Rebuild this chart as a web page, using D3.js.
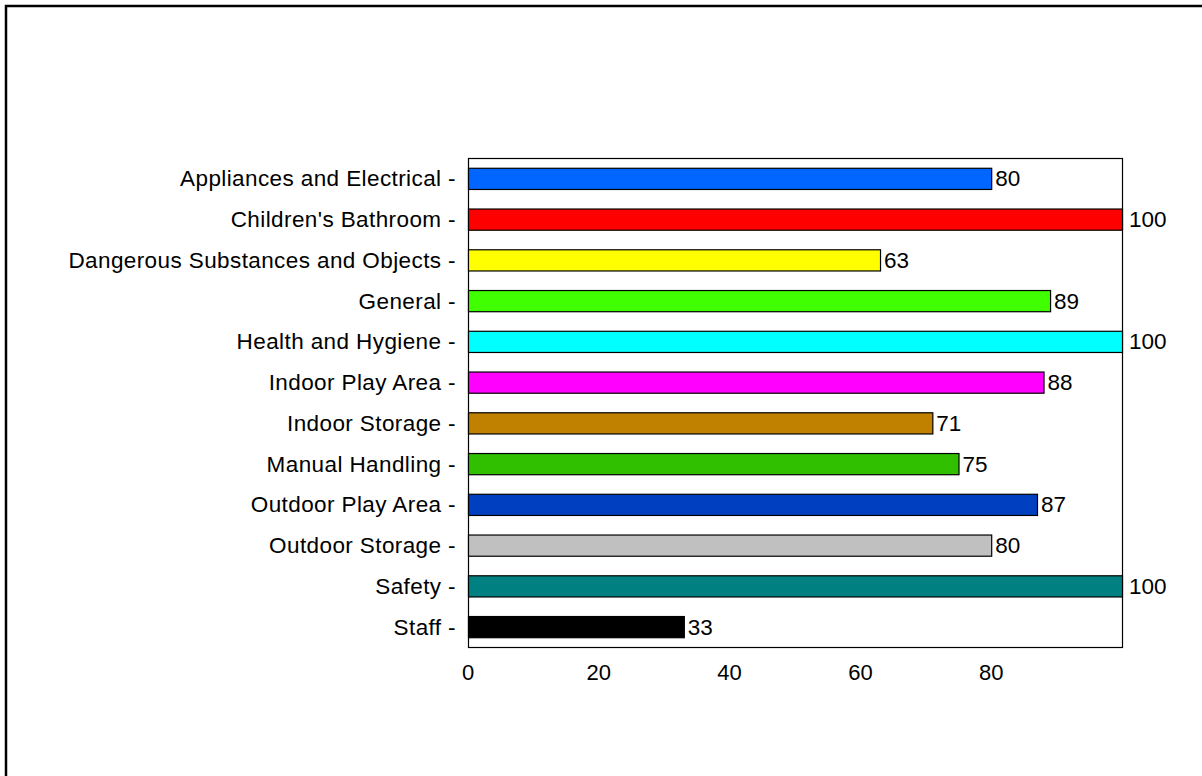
<!DOCTYPE html>
<html>
<head>
<meta charset="utf-8">
<script src="https://cdn.jsdelivr.net/npm/d3@7"></script>
<style>
  body { margin: 0; background: #fff; }
  svg text { font-family: "Liberation Sans", Arial, sans-serif; fill: #000; }
</style>
</head>
<body>
<div id="chart"></div>
<script>
const WIDTH = 1202;
const HEIGHT = 776;

const categories = [
  "Appliances and Electrical", "Children's Bathroom", "Dangerous Substances and Objects",
  "General", "Health and Hygiene", "Indoor Play Area", "Indoor Storage",
  "Manual Handling", "Outdoor Play Area", "Outdoor Storage", "Safety", "Staff"
];
const values = [80, 100, 63, 89, 100, 88, 71, 75, 87, 80, 100, 33];
const barColors = [
  "#0066ff", "#ff0000", "#ffff00", "#40ff00", "#00ffff", "#ff00ff",
  "#c08000", "#30c000", "#0040c0", "#c0c0c0", "#008080", "#000000"
];
const xTicks = [0, 20, 40, 60, 80];

const plot = { left: 468, top: 158, right: 1122, bottom: 647 };

const svg = d3.select("#chart")
  .append("svg")
  .attr("width", WIDTH)
  .attr("height", HEIGHT);

// outer frame (only top and left show in the picture)
svg.append("path")
  .attr("d", "M6,776 V6 H1202")
  .attr("fill", "none")
  .attr("stroke", "#000")
  .attr("stroke-width", 2.5);

const x = d3.scaleLinear().domain([0, 100]).range([plot.left, plot.right]);
const y = d3.scaleBand().domain(categories).range([plot.top, plot.bottom]).paddingInner(0.48).paddingOuter(0.24);

// plot box
svg.append("rect")
  .attr("x", plot.left + 0.5)
  .attr("y", plot.top + 0.5)
  .attr("width", plot.right - plot.left)
  .attr("height", plot.bottom - plot.top)
  .attr("fill", "none")
  .attr("stroke", "#000")
  .attr("stroke-width", 1.2);

svg.selectAll("rect.bar")
  .data(categories)
  .enter()
  .append("rect")
  .attr("class", "bar")
  .attr("x", x(0) + 0.5)
  .attr("y", d => y(d) + 0.5)
  .attr("width", (d, i) => x(values[i]) - x(0))
  .attr("height", y.bandwidth())
  .attr("fill", (d, i) => barColors[i])
  .attr("stroke", "#000")
  .attr("stroke-width", 1.2);

// value labels
svg.selectAll("text.val")
  .data(categories)
  .enter()
  .append("text")
  .attr("class", "val")
  .attr("x", (d, i) => x(values[i]) + 4 + (values[i] === 100 ? 3 : 0))
  .attr("y", d => y(d) + y.bandwidth() / 2)
  .attr("dy", "0.36em")
  .style("font-size", "22.5px")
  .text((d, i) => values[i]);

// category labels
svg.selectAll("text.cat")
  .data(categories)
  .enter()
  .append("text")
  .attr("class", "cat")
  .attr("x", plot.left - 12)
  .attr("y", d => y(d) + y.bandwidth() / 2)
  .attr("dy", "0.36em")
  .attr("text-anchor", "end")
  .style("font-size", "22.5px")
  .style("letter-spacing", "0.4px")
  .text(d => d + " -");

// x tick labels
svg.selectAll("text.tick")
  .data(xTicks)
  .enter()
  .append("text")
  .attr("class", "tick")
  .attr("x", d => x(d))
  .attr("y", plot.bottom + 33)
  .attr("text-anchor", "middle")
  .style("font-size", "22px")
  .text(d => d);
</script>
</body>
</html>
